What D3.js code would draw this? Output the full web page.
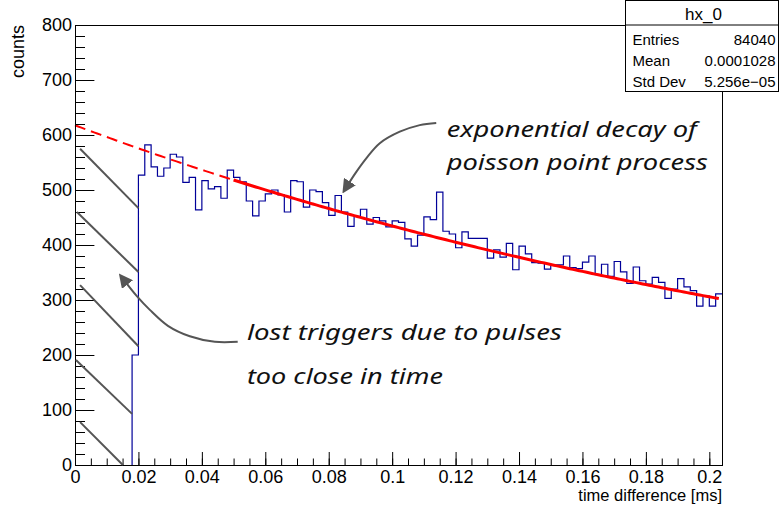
<!DOCTYPE html>
<html>
<head>
<meta charset="utf-8">
<script src="https://cdn.jsdelivr.net/npm/d3@7"></script>
<style>
  html, body { margin: 0; padding: 0; background: #fff; }
  svg { display: block; }
</style>
</head>
<body>
<div id="chart"></div>
<script>
// Histogram hx_0: bins of 0.002 ms starting at 0 (counts per bin)
const binWidth = 0.002;
const binCounts = [
  0, 0, 0, 0, 0, 0, 0, 0, 0, 200,
  527, 582, 542, 525, 540, 565, 560, 514, 523, 464,
  517, 502, 506, 485, 536, 523, 515, 480, 453, 480,
  493, 500, 491, 460, 517, 515, 469, 500, 497, 477,
  454, 490, 460, 434, 452, 465, 438, 450, 444, 433,
  444, 441, 411, 398, 418, 451, 446, 496, 425, 420,
  395, 424, 412, 412, 412, 376, 391, 378, 403, 355,
  398, 384, 368, 367, 356, 364, 364, 380, 359, 357,
  369, 380, 346, 365, 343, 370, 351, 330, 360, 335,
  329, 341, 332, 303, 320, 339, 324, 317, 289, 307,
  289, 311
];

const xTicks = [0, 0.02, 0.04, 0.06, 0.08, 0.1, 0.12, 0.14, 0.16, 0.18, 0.2];
const yTicks = [0, 100, 200, 300, 400, 500, 600, 700, 800];
const xDomain = [0, 0.204];
const yDomain = [0, 800];

// expo fit: exp(p0 + p1*x), solid over fit range, dashed extrapolation before
const fitP0 = 6.426;
const fitP1 = -3.515;
const fitRange = [0.05, 0.2037];

const statsTitle = 'hx_0';
const statsRows = [
  ['Entries', '84040'],
  ['Mean', '0.0001028'],
  ['Std Dev', '5.256e\u221205']
];

// annotations, in data units
const hatchLines = [
  [[0.0016, 575], [0.0200, 467]],
  [[0.0006, 460], [0.0200, 351]],
  [[0.0016, 327], [0.0200, 216]],
  [[0.0003, 191], [0.0180, 93]],
  [[0.0016, 78], [0.0151, 0]]
];
const arrowUpper = [[0.1139, 622], [0.1087, 618], [0.1024, 606], [0.0961, 585], [0.0919, 558], [0.0887, 533], [0.0862, 511]];
const arrowLower = [[0.0513, 224], [0.0441, 224], [0.0362, 234], [0.0293, 253], [0.0236, 282], [0.0195, 307], [0.0160, 332]];
const notes = [
  { text: 'exponential decay of', x: 0.1172, y: 596, len: 250 },
  { text: 'poisson point process', x: 0.1172, y: 536, len: 261 },
  { text: 'lost triggers due to pulses', x: 0.0542, y: 227, len: 315 },
  { text: 'too close in time', x: 0.0542, y: 147, len: 196 }
];

const width = 780, height = 505;
const frame = { left: 75, top: 25, right: 722, bottom: 465 };

const svg = d3.select('#chart').append('svg')
  .attr('width', width)
  .attr('height', height)
  .style('font-family', '"Liberation Sans", Arial, sans-serif');

const x = d3.scaleLinear().domain(xDomain).range([frame.left, frame.right]);
const y = d3.scaleLinear().domain(yDomain).range([frame.bottom, frame.top]);

const defs = svg.append('defs');
defs.append('clipPath').attr('id', 'frame-clip')
  .append('rect')
  .attr('x', frame.left).attr('y', frame.top)
  .attr('width', frame.right - frame.left)
  .attr('height', frame.bottom - frame.top);

defs.append('marker')
  .attr('id', 'arrow-head')
  .attr('viewBox', '0 0 10 10')
  .attr('refX', 2).attr('refY', 5)
  .attr('markerWidth', 7).attr('markerHeight', 7)
  .attr('markerUnits', 'strokeWidth')
  .attr('orient', 'auto')
  .append('path')
  .attr('d', 'M0,0 L10,5 L0,10 Z')
  .attr('fill', '#555');

// Histogram outline (empty leading bins sit on the axis, so start at the first filled one)
const firstBin = binCounts.findIndex(v => v > 0);
const steps = [[x(firstBin * binWidth), y(0)]];
binCounts.forEach((v, i) => {
  if (i < firstBin) return;
  steps.push([x(i * binWidth), y(v)]);
  steps.push([x((i + 1) * binWidth), y(v)]);
});
svg.append('path')
  .attr('clip-path', 'url(#frame-clip)')
  .attr('d', d3.line()(steps))
  .attr('fill', 'none')
  .attr('stroke', '#000099')
  .attr('stroke-width', 1.2);

// Fit function
const fitLine = d3.line().x(d => x(d)).y(d => y(Math.exp(fitP0 + fitP1 * d)));
svg.append('path')
  .attr('d', fitLine(d3.range(0, fitRange[0] + 1e-9, 0.001)))
  .attr('fill', 'none')
  .attr('stroke', '#ff0000')
  .attr('stroke-width', 2)
  .attr('stroke-dasharray', '11,6');
svg.append('path')
  .attr('d', fitLine(d3.range(fitRange[0], fitRange[1] + 1e-9, 0.001)))
  .attr('fill', 'none')
  .attr('stroke', '#ff0000')
  .attr('stroke-width', 3);

// Axes (ticks inside the frame, ROOT style)
svg.append('g')
  .attr('transform', `translate(0, ${frame.bottom})`)
  .call(d3.axisBottom(x).tickValues(xTicks).tickSize(-13).tickPadding(5)
    .tickFormat(d => String(+d.toFixed(2))));
svg.append('g')
  .attr('transform', `translate(0, ${frame.bottom})`)
  .call(d3.axisBottom(x).tickValues(d3.range(0, 0.2041, 0.005)).tickSize(-6.5).tickFormat(''));

svg.append('g')
  .attr('transform', `translate(${frame.left}, 0)`)
  .call(d3.axisLeft(y).tickValues(yTicks).tickSize(-19.4).tickPadding(3));
svg.append('g')
  .attr('transform', `translate(${frame.left}, 0)`)
  .call(d3.axisLeft(y).tickValues(d3.range(0, 801, 20)).tickSize(-10).tickFormat(''));

svg.selectAll('.domain').remove();
svg.selectAll('.tick line').attr('stroke', '#000');
svg.selectAll('.tick text')
  .attr('fill', '#000')
  .attr('font-size', '18px')
  .attr('font-family', '"Liberation Sans", Arial, sans-serif');

// Frame
svg.append('rect')
  .attr('x', frame.left + 0.5).attr('y', frame.top + 0.5)
  .attr('width', frame.right - frame.left)
  .attr('height', frame.bottom - frame.top)
  .attr('fill', 'none')
  .attr('stroke', '#000');

// Axis titles
svg.append('text')
  .attr('x', frame.right)
  .attr('y', 501)
  .attr('text-anchor', 'end')
  .attr('font-size', '16.5px')
  .text('time difference [ms]');

svg.append('text')
  .attr('transform', `translate(24, ${frame.top}) rotate(-90)`)
  .attr('text-anchor', 'end')
  .attr('font-size', '18px')
  .text('counts');

// Annotations
const annot = svg.append('g').attr('class', 'annotations');
hatchLines.forEach(l => {
  annot.append('line')
    .attr('x1', x(l[0][0])).attr('y1', y(l[0][1]))
    .attr('x2', x(l[1][0])).attr('y2', y(l[1][1]))
    .attr('stroke', '#555')
    .attr('stroke-width', 2);
});

const curve = d3.line().x(d => x(d[0])).y(d => y(d[1])).curve(d3.curveCatmullRom);
[arrowUpper, arrowLower].forEach(pts => {
  annot.append('path')
    .attr('d', curve(pts))
    .attr('fill', 'none')
    .attr('stroke', '#555')
    .attr('stroke-width', 2)
    .attr('marker-end', 'url(#arrow-head)');
});

notes.forEach(n => {
  annot.append('text')
    .attr('x', x(n.x))
    .attr('y', y(n.y))
    .attr('font-family', '"Noto Sans", "DejaVu Sans", sans-serif')
    .attr('font-style', 'italic')
    .attr('font-size', '22px')
    .attr('fill', '#111')
    .attr('textLength', n.len)
    .attr('lengthAdjust', 'spacingAndGlyphs')
    .text(n.text);
});

// Stats box
const stats = svg.append('g').attr('transform', 'translate(625.5, 0.5)');
stats.append('rect')
  .attr('width', 153).attr('height', 91)
  .attr('fill', '#fff')
  .attr('stroke', '#000');
stats.append('line')
  .attr('x1', 0).attr('x2', 153)
  .attr('y1', 24.5).attr('y2', 24.5)
  .attr('stroke', '#000');
stats.append('text')
  .attr('x', 78).attr('y', 19)
  .attr('text-anchor', 'middle')
  .attr('font-size', '17px')
  .text(statsTitle);
statsRows.forEach((r, i) => {
  const ty = 44 + i * 21;
  stats.append('text')
    .attr('x', 7).attr('y', ty)
    .attr('font-size', '15px')
    .text(r[0]);
  stats.append('text')
    .attr('x', 150).attr('y', ty)
    .attr('text-anchor', 'end')
    .attr('font-size', '15px')
    .text(r[1]);
});
</script>
</body>
</html>
